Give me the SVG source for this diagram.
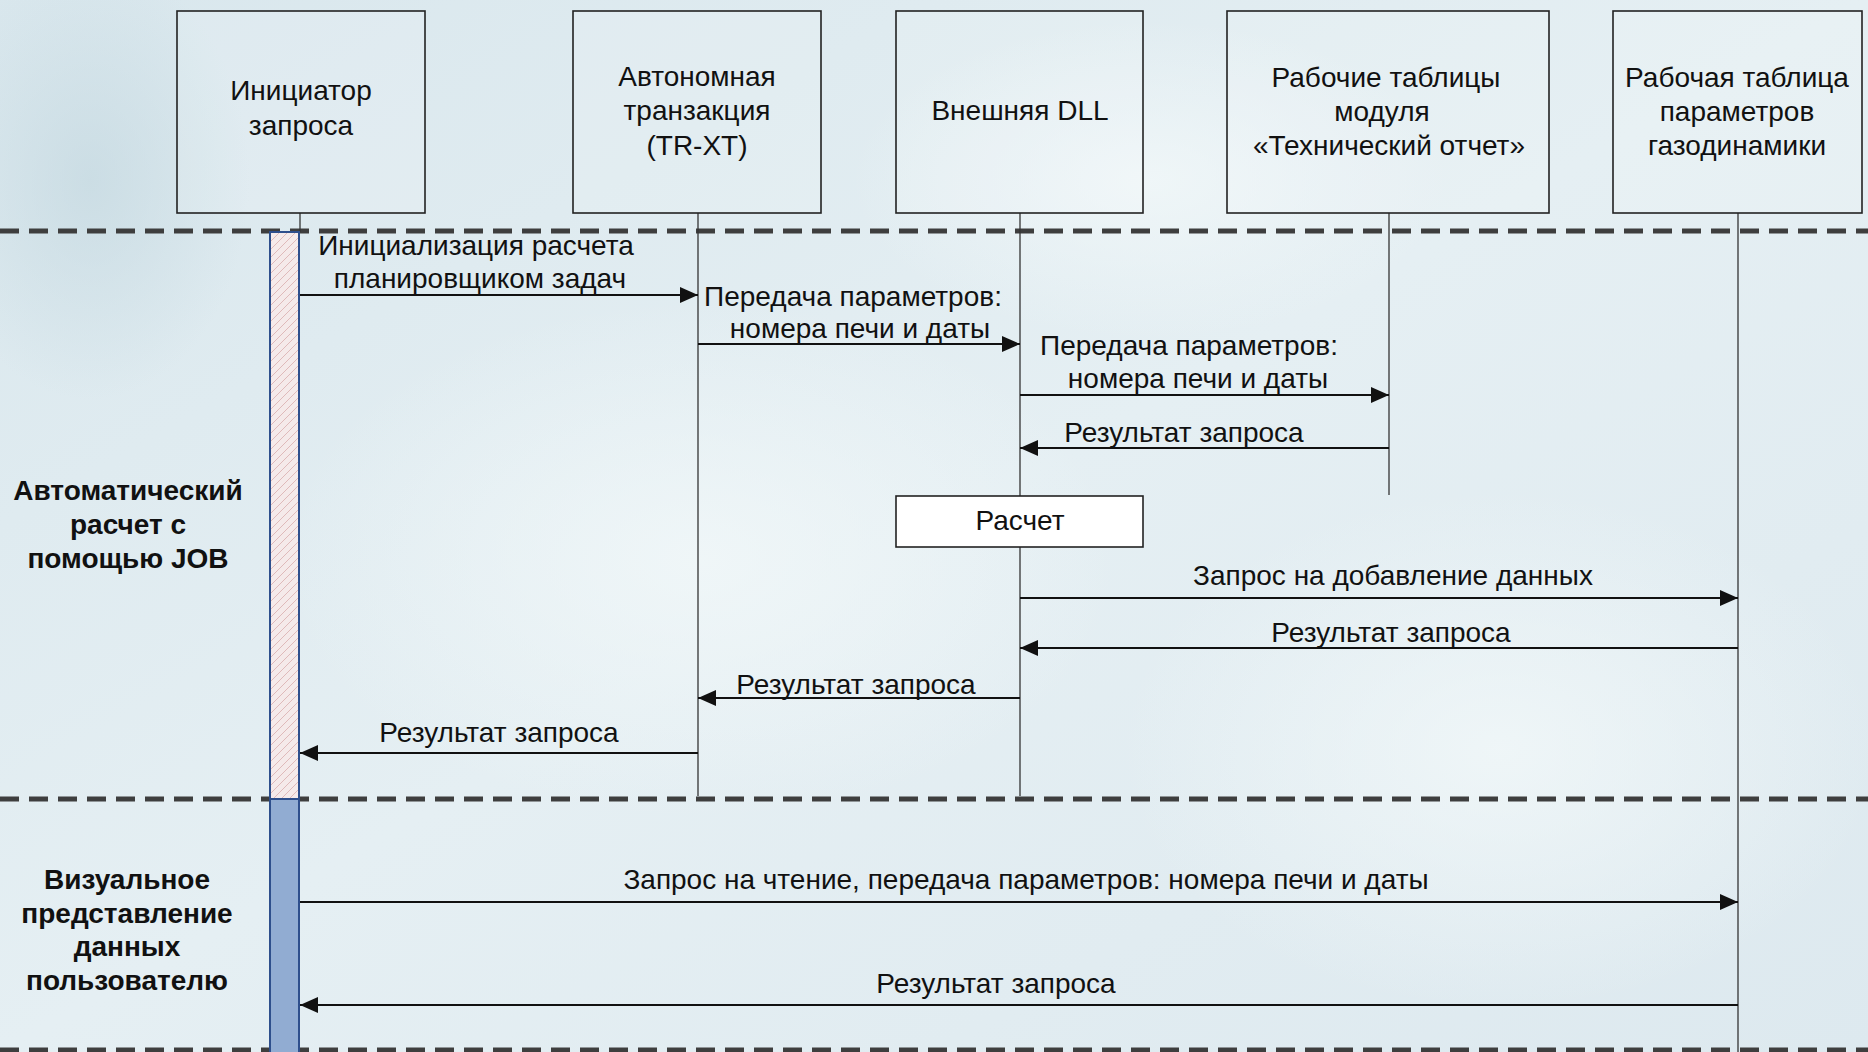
<svg xmlns="http://www.w3.org/2000/svg" width="1868" height="1052" viewBox="0 0 1868 1052">
<defs>
  <linearGradient id="bg" x1="0" y1="0" x2="1" y2="1">
    <stop offset="0" stop-color="#d9e7ed"/>
    <stop offset="0.5" stop-color="#e5eff3"/>
    <stop offset="1" stop-color="#dde9ef"/>
  </linearGradient>
  <radialGradient id="glow1" cx="0.5" cy="0.5" r="0.5">
    <stop offset="0" stop-color="#f2f8f9" stop-opacity="0.8"/>
    <stop offset="1" stop-color="#f2f8f9" stop-opacity="0"/>
  </radialGradient>
  <radialGradient id="dark1" cx="0.5" cy="0.5" r="0.5">
    <stop offset="0" stop-color="#c4d8e0" stop-opacity="0.7"/>
    <stop offset="1" stop-color="#c4d8e0" stop-opacity="0"/>
  </radialGradient>
  <pattern id="hatch" width="8" height="8" patternUnits="userSpaceOnUse">
    <rect width="8" height="8" fill="#f5eaea"/>
    <path d="M-2,2 L2,-2 M0,8 L8,0 M6,10 L10,6" stroke="#dcb4b4" stroke-width="0.9"/>
  </pattern>
  <marker id="arr" markerUnits="userSpaceOnUse" markerWidth="18" markerHeight="16" refX="18" refY="8" orient="auto">
    <path d="M0,0 L18,8 L0,16 z" fill="#111"/>
  </marker>
  <style>
    .box { fill: #ffffff; fill-opacity: 0.12; stroke: #222; stroke-width: 1.6; }
    .lbl { font-family: "Liberation Sans", Arial, sans-serif; font-size: 28px; fill: #111; text-anchor: middle; }
    .sec { font-family: "Liberation Sans", Arial, sans-serif; font-size: 28px; font-weight: bold; fill: #111; text-anchor: middle; }
    .life { stroke: #333; stroke-width: 1.3; fill: none; }
    .msg { stroke: #111; stroke-width: 2; fill: none; marker-end: url(#arr); }
    .sep { stroke: #3e3e3e; stroke-width: 5; stroke-dasharray: 19 10; fill: none; }
  </style>
</defs>

<rect width="1868" height="1052" fill="url(#bg)"/>
<ellipse cx="90" cy="180" rx="160" ry="220" fill="url(#dark1)"/>
<ellipse cx="700" cy="560" rx="420" ry="260" fill="url(#glow1)"/>
<ellipse cx="1500" cy="750" rx="380" ry="260" fill="url(#glow1)"/>
<ellipse cx="1150" cy="180" rx="300" ry="160" fill="url(#glow1)"/>

<g id="separators">
  <line class="sep" x1="0" y1="231" x2="1868" y2="231"/>
  <line class="sep" x1="0" y1="799" x2="1868" y2="799"/>
  <line class="sep" x1="0" y1="1050" x2="1868" y2="1050"/>
</g>

<g id="section-labels">
  <text class="sec" x="128" y="500">Автоматический</text>
  <text class="sec" x="128" y="534">расчет с</text>
  <text class="sec" x="128" y="568">помощью JOB</text>
  <text class="sec" x="127" y="889">Визуальное</text>
  <text class="sec" x="127" y="923">представление</text>
  <text class="sec" x="127" y="956">данных</text>
  <text class="sec" x="127" y="990">пользователю</text>
</g>

<g id="lifelines">
  <line class="life" x1="300" y1="213" x2="300" y2="232"/>
  <line class="life" x1="698" y1="213" x2="698" y2="796"/>
  <line class="life" x1="1020" y1="213" x2="1020" y2="796"/>
  <line class="life" x1="1389" y1="213" x2="1389" y2="495"/>
  <line class="life" x1="1738" y1="213" x2="1738" y2="1052"/>
</g>

<g id="activation">
  <rect x="270" y="232" width="29" height="567" fill="url(#hatch)" stroke="#2e4f8c" stroke-width="2"/>
  <rect x="270" y="799" width="29" height="262" fill="#91acd2" stroke="#2e4f8c" stroke-width="2"/>
</g>

<g id="node-initiator">
  <rect class="box" x="177" y="11" width="248" height="202"/>
  <text class="lbl" x="301" y="100">Инициатор</text>
  <text class="lbl" x="301" y="135">запроса</text>
</g>
<g id="node-autonomous">
  <rect class="box" x="573" y="11" width="248" height="202"/>
  <text class="lbl" x="697" y="86">Автономная</text>
  <text class="lbl" x="697" y="120">транзакция</text>
  <text class="lbl" x="697" y="155">(TR-XT)</text>
</g>
<g id="node-dll">
  <rect class="box" x="896" y="11" width="247" height="202"/>
  <text class="lbl" x="1020" y="120">Внешняя DLL</text>
</g>
<g id="node-worktables">
  <rect class="box" x="1227" y="11" width="322" height="202"/>
  <text class="lbl" x="1386" y="87">Рабочие таблицы</text>
  <text class="lbl" x="1382" y="121">модуля</text>
  <text class="lbl" x="1389" y="155">«Технический отчет»</text>
</g>
<g id="node-gasdyn">
  <rect class="box" x="1613" y="11" width="249" height="202"/>
  <text class="lbl" x="1737" y="87">Рабочая таблица</text>
  <text class="lbl" x="1737" y="121">параметров</text>
  <text class="lbl" x="1737" y="155">газодинамики</text>
</g>

<g id="node-calc">
  <rect x="896" y="496" width="247" height="51" fill="#ffffff" stroke="#222" stroke-width="1.6"/>
  <text class="lbl" x="1020" y="530">Расчет</text>
</g>

<g id="connectors">
  <line class="msg" x1="300" y1="295" x2="698" y2="295"/>
  <line class="msg" x1="698" y1="344" x2="1020" y2="344"/>
  <line class="msg" x1="1020" y1="395" x2="1389" y2="395"/>
  <line class="msg" x1="1389" y1="448" x2="1020" y2="448"/>
  <line class="msg" x1="1020" y1="598" x2="1738" y2="598"/>
  <line class="msg" x1="1738" y1="648" x2="1020" y2="648"/>
  <line class="msg" x1="1020" y1="698" x2="698" y2="698"/>
  <line class="msg" x1="698" y1="753" x2="300" y2="753"/>
  <line class="msg" x1="300" y1="902" x2="1738" y2="902"/>
  <line class="msg" x1="1738" y1="1005" x2="300" y2="1005"/>
</g>

<g id="connector-labels">
  <text class="lbl" x="476" y="255">Инициализация расчета</text>
  <text class="lbl" x="480" y="288">планировщиком задач</text>
  <text class="lbl" x="853" y="306">Передача параметров:</text>
  <text class="lbl" x="860" y="338">номера печи и даты</text>
  <text class="lbl" x="1189" y="355">Передача параметров:</text>
  <text class="lbl" x="1198" y="388">номера печи и даты</text>
  <text class="lbl" x="1184" y="442">Результат запроса</text>
  <text class="lbl" x="1393" y="585">Запрос на добавление данных</text>
  <text class="lbl" x="1391" y="642">Результат запроса</text>
  <text class="lbl" x="856" y="694">Результат запроса</text>
  <text class="lbl" x="499" y="742">Результат запроса</text>
  <text class="lbl" x="1026" y="889">Запрос на чтение, передача параметров: номера печи и даты</text>
  <text class="lbl" x="996" y="993">Результат запроса</text>
</g>
</svg>
